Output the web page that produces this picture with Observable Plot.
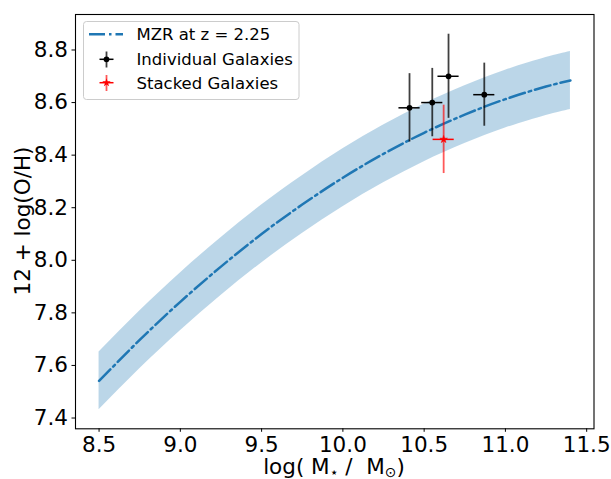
<!DOCTYPE html>
<html>
<head>
<meta charset="utf-8">
<script src="https://cdn.jsdelivr.net/npm/d3@7"></script>
<script src="https://cdn.jsdelivr.net/npm/@observablehq/plot@0.6"></script>
<style>
  html, body { margin: 0; padding: 0; background: white; }
  #chart svg { display: block; }
</style>
</head>
<body>
<div id="chart"></div>
<script>
// MZR relation at z = 2.25
const mzrMass = [8.5, 8.75, 9.0, 9.25, 9.5, 9.75, 10.0, 10.25, 10.5, 10.75, 11.0, 11.25, 11.4];
const mzrOH   = [7.541, 7.697, 7.842, 7.976, 8.100, 8.212, 8.314, 8.405, 8.485, 8.554, 8.613, 8.661, 8.684];
const mzrLow  = [7.431, 7.587, 7.732, 7.866, 7.990, 8.102, 8.204, 8.295, 8.375, 8.444, 8.503, 8.551, 8.574];
const mzrHigh = [7.651, 7.807, 7.952, 8.086, 8.210, 8.322, 8.424, 8.515, 8.595, 8.664, 8.723, 8.771, 8.794];

// Individual galaxies
const indMass    = [10.41, 10.55, 10.65, 10.87];
const indOH      = [8.58, 8.60, 8.70, 8.63];
const indMassErr = [0.065, 0.065, 0.065, 0.065];
const indOHErr   = [0.13, 0.13, 0.16, 0.12];

// Stacked galaxies
const stkMass    = [10.62];
const stkOH      = [8.46];
const stkMassErr = [0.065];
const stkOHErr   = [0.13];

// Axis ticks
const xTicks = [8.5, 9.0, 9.5, 10.0, 10.5, 11.0, 11.5];
const yTicks = [7.4, 7.6, 7.8, 8.0, 8.2, 8.4, 8.6, 8.8];

const mzr = mzrMass.map((m, i) => ({mass: m, oh: mzrOH[i], lo: mzrLow[i], hi: mzrHigh[i]}));
const ind = indMass.map((m, i) => ({mass: m, oh: indOH[i], ex: indMassErr[i], ey: indOHErr[i]}));
const stk = stkMass.map((m, i) => ({mass: m, oh: stkOH[i], ex: stkMassErr[i], ey: stkOHErr[i]}));

const blue = "#1f77b4";
const dash = "16,4,2.5,4";

const svg = Plot.plot({
  width: 611,
  height: 479,
  marginLeft: 75,
  marginRight: 17.5,
  marginTop: 14,
  marginBottom: 50.7,
  style: {fontFamily: "DejaVu Sans", fontSize: "21.5px", color: "black", background: "white", overflow: "visible"},
  x: {domain: [8.355, 11.545], ticks: xTicks, tickFormat: d => d.toFixed(1), label: null, tickSize: 3.5, tickPadding: 4},
  y: {domain: [7.359, 8.935], ticks: yTicks, tickFormat: d => d.toFixed(1), label: null, tickSize: 3.5, tickPadding: 4},
  marks: [
    Plot.areaY(mzr, {x: "mass", y1: "lo", y2: "hi", fill: blue, fillOpacity: 0.3, curve: "natural"}),
    Plot.lineY(mzr, {x: "mass", y: "oh", stroke: blue, strokeWidth: 2.5, strokeDasharray: dash, curve: "natural"}),
    Plot.ruleX(ind, {x: "mass", y1: d => d.oh - d.ey, y2: d => d.oh + d.ey, stroke: "black", strokeOpacity: 0.75, strokeWidth: 1.8}),
    Plot.ruleY(ind, {y: "oh", x1: d => d.mass - d.ex, x2: d => d.mass + d.ex, stroke: "black", strokeWidth: 1.5}),
    Plot.dot(ind, {x: "mass", y: "oh", r: 2.9, fill: "black"}),
    Plot.ruleX(stk, {x: "mass", y1: d => d.oh - d.ey, y2: d => d.oh + d.ey, stroke: "red", strokeOpacity: 0.65, strokeWidth: 1.8}),
    Plot.ruleY(stk, {y: "oh", x1: d => d.mass - d.ex, x2: d => d.mass + d.ex, stroke: "red", strokeWidth: 1.5}),
    Plot.dot(stk, {x: "mass", y: "oh", r: 2.4, symbol: "star", fill: "red", stroke: "red", strokeWidth: 0.5}),
    Plot.frame({stroke: "black", strokeWidth: 1.1})
  ]
});

document.getElementById("chart").appendChild(svg);

const s = d3.select(svg);

// Axis labels
const xl = s.append("text")
  .attr("x", 334).attr("y", 474)
  .attr("text-anchor", "middle")
  .attr("font-family", "DejaVu Sans").attr("font-size", "21.5px").attr("fill", "black");
xl.append("tspan").text("log( M");
xl.append("tspan").attr("font-size", "14px").attr("dy", 3).text("\u22C6");
xl.append("tspan").attr("dy", -3).text(" /  M");
xl.append("tspan").attr("font-size", "14px").attr("dy", 3).text("\u2299");
xl.append("tspan").attr("dy", -3).text(")");

s.append("text")
  .attr("transform", "translate(22.5,221) rotate(-90)")
  .attr("text-anchor", "middle").attr("dy", "0.35em")
  .attr("font-family", "DejaVu Sans").attr("font-size", "21.5px").attr("fill", "black")
  .text("12 + log(O/H)");

// Legend
const lg = s.append("g").attr("font-family", "DejaVu Sans").attr("font-size", "16.5px").attr("text-anchor", "start");
lg.append("rect").attr("x", 83.5).attr("y", 21.5).attr("width", 215.5).attr("height", 78)
  .attr("rx", 3).attr("fill", "white").attr("fill-opacity", 0.8).attr("stroke", "#cccccc").attr("stroke-width", 1);
lg.append("line").attr("x1", 89).attr("x2", 123).attr("y1", 34.3).attr("y2", 34.3)
  .attr("stroke", blue).attr("stroke-width", 2.5).attr("stroke-dasharray", dash);
lg.append("text").attr("x", 136.5).attr("y", 34.3).attr("dy", "0.36em").attr("text-anchor", "start").text("MZR at z = 2.25");
// Individual handle
lg.append("line").attr("x1", 106.5).attr("x2", 106.5).attr("y1", 51.5).attr("y2", 67.5).attr("stroke", "black").attr("stroke-opacity", 0.75).attr("stroke-width", 1.8);
lg.append("line").attr("x1", 99.5).attr("x2", 113.5).attr("y1", 59.3).attr("y2", 59.3).attr("stroke", "black").attr("stroke-width", 1.5);
lg.append("circle").attr("cx", 106.5).attr("cy", 59.3).attr("r", 2.9).attr("fill", "black");
lg.append("text").attr("x", 136.5).attr("y", 59.3).attr("dy", "0.36em").attr("text-anchor", "start").text("Individual Galaxies");
// Stacked handle
lg.append("line").attr("x1", 106.5).attr("x2", 106.5).attr("y1", 75).attr("y2", 91).attr("stroke", "red").attr("stroke-opacity", 0.65).attr("stroke-width", 1.8);
lg.append("line").attr("x1", 99.5).attr("x2", 113.5).attr("y1", 82.7).attr("y2", 82.7).attr("stroke", "red").attr("stroke-width", 1.5);
lg.append("path").attr("d", d3.symbol(d3.symbolStar, 22)()).attr("transform", "translate(106.5,82.7)").attr("fill", "red");
lg.append("text").attr("x", 136.5).attr("y", 82.7).attr("dy", "0.36em").attr("text-anchor", "start").text("Stacked Galaxies");
</script>
</body>
</html>
